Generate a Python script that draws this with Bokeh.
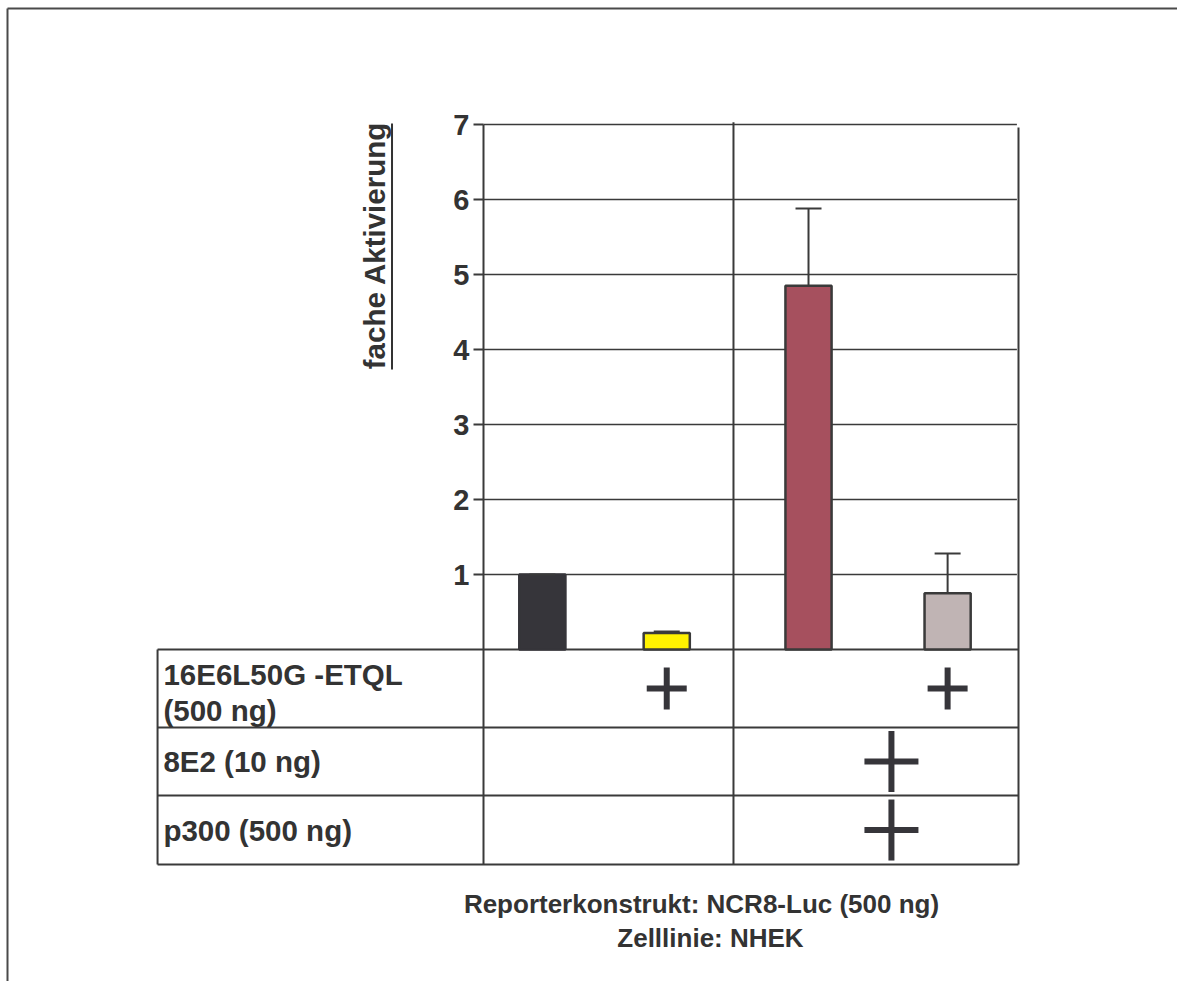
import math

from bokeh.core.properties import value
from bokeh.embed import file_html
from bokeh.models import (ColumnDataSource, FixedTicker, LinearAxis, Range1d,
                          TeeHead, Whisker)
from bokeh.plotting import figure
from bokeh.resources import INLINE

# ---- data -----------------------------------------------------------------
# fold activation of the NCR8-Luc reporter, one bar per transfection
bar_values = [1.0, 0.22, 4.85, 0.75]
bar_errors = [0.0, 0.02, 1.03, 0.53]
bar_positions = [0.44, 1.37, 2.43, 3.47]
bar_colors = ["#36353a", "#fff200", "#a6505e", "#c0b4b4"]
bar_outlines = ["#36353a", "#3a3a3a", "#3a3a3a", "#3a3a3a"]
y_ticks = [1, 2, 3, 4, 5, 6, 7]

# transfection table below the bars
row_labels = ["16E6L50G -ETQL\n(500 ng)", "8E2 (10 ng)", "p300 (500 ng)"]
plus_x = [1.37, 3.47, 3.05, 3.05]
plus_row = [0, 0, 1, 2]

y_title = "fache Aktivierung"
footer_lines = ["Reporterkonstrukt: NCR8-Luc (500 ng)", "Zelllinie: NHEK"]

# ---- layout ---------------------------------------------------------------
W, H = 1177, 981
X_PX, Y_PX = 133.75, 75.0          # pixels per data unit
ORIGIN_X, ORIGIN_Y = 483, 649      # canvas position of (0, 0)
x_lo, x_hi = -ORIGIN_X / X_PX, (W - ORIGIN_X) / X_PX
y_lo, y_hi = -(H - ORIGIN_Y) / Y_PX, ORIGIN_Y / Y_PX

INK = "#333333"
LINE = "#3a3a3a"
FONT = "Liberation Sans"

table_left, table_right, divider_x = -2.437, 4.0, 1.869
row_edges = [0.0, -1.04, -1.947, -2.867]
row_centers = [(a + b) / 2 for a, b in zip(row_edges[:-1], row_edges[1:])]
table_bottom = row_edges[-1]

p = figure(width=W, height=H, min_border=0, output_backend="svg",
           toolbar_location=None, x_axis_type=None, y_axis_type=None,
           x_range=Range1d(x_lo, x_hi), y_range=Range1d(y_lo, y_hi),
           outline_line_color=None, background_fill_color="white",
           border_fill_color="white")

# page frame (top and left edges)
frame_x, frame_y = (7 - ORIGIN_X) / X_PX, (ORIGIN_Y - 8) / Y_PX
p.segment(x0=[frame_x, frame_x], x1=[x_hi, frame_x],
          y0=[frame_y, frame_y], y1=[frame_y, y_lo],
          line_color="#4a4a4a", line_width=2)

# horizontal grid lines at the tick values
p.segment(x0=[0] * len(y_ticks), x1=[table_right - 0.012] * len(y_ticks),
          y0=y_ticks, y1=y_ticks, line_color=LINE, line_width=1.5)

# table rules
p.segment(x0=[table_left] * len(row_edges), x1=[table_right] * len(row_edges),
          y0=row_edges, y1=row_edges, line_color=LINE, line_width=2)
p.segment(x0=[table_left, divider_x, table_right],
          x1=[table_left, divider_x, table_right],
          y0=[0, 7.03, 6.96], y1=[table_bottom] * 3,
          line_color=LINE, line_width=2)

# bars
bars = ColumnDataSource(dict(
    x=bar_positions, top=bar_values, color=bar_colors, outline=bar_outlines,
    upper=[v + e for v, e in zip(bar_values, bar_errors)]))
p.vbar(x="x", top="top", bottom=0, width=0.345, source=bars,
       fill_color="color", line_color="outline", line_width=2.5)

# upper error whiskers
p.add_layout(Whisker(source=bars, base="x", lower="top", upper="upper",
                     dimension="height", level="overlay",
                     line_color=LINE, line_width=2, lower_head=None,
                     upper_head=TeeHead(size=26, line_color=LINE, line_width=2)))

# y axis drawn on the table's inner border
axis = LinearAxis(ticker=FixedTicker(ticks=y_ticks), fixed_location=0,
                  bounds=(table_bottom, 7),
                  axis_line_color=LINE, axis_line_width=2,
                  major_tick_line_color=LINE, major_tick_line_width=2,
                  major_tick_in=0, major_tick_out=10,
                  minor_tick_in=0, minor_tick_out=0,
                  major_label_standoff=4,
                  major_label_text_font=FONT,
                  major_label_text_font_style="bold",
                  major_label_text_font_size="29px",
                  major_label_text_color=INK)
p.add_layout(axis, "left")

# y axis title, underlined
p.text(x=[-0.815], y=[5.387], text=[y_title], angle=math.pi / 2,
       text_align="center", text_baseline="middle",
       text_font=value(FONT), text_font_style="bold",
       text_font_size=value("29.5px"), text_color=INK)
p.segment(x0=[-0.684], x1=[-0.684], y0=[3.733], y1=[7.013],
          line_color=INK, line_width=2)

# table row labels
p.text(x=[-2.393] * len(row_labels), y=[-0.57, row_centers[1], row_centers[2]],
       text=row_labels, text_align="left", text_baseline="middle",
       text_font=value(FONT), text_font_style="bold",
       text_font_size=value("29.5px"), text_color=INK,
       text_line_height=1.1)

# '+' marks: small in the first row, large spanning the last two conditions
plus_w = [40 if r == 0 else 54 for r in plus_row]
plus_h = [42 if r == 0 else 61 for r in plus_row]
plus = ColumnDataSource(dict(x=plus_x, y=[row_centers[r] for r in plus_row],
                             w=plus_w, h=plus_h,
                             t=[6] * len(plus_row)))
p.rect(x="x", y="y", width="w", height="t", width_units="screen",
       height_units="screen", source=plus, fill_color="#36353a",
       line_color=None)
p.rect(x="x", y="y", width="t", height="h", width_units="screen",
       height_units="screen", source=plus, fill_color="#36353a",
       line_color=None)

# footer
p.text(x=[1.63, 1.697], y=[-3.387, -3.853], text=footer_lines,
       text_align="center", text_baseline="middle",
       text_font=value(FONT), text_font_style="bold",
       text_font_size=value("26px"), text_color=INK)

open("out.html", "w").write(file_html(p, INLINE))
